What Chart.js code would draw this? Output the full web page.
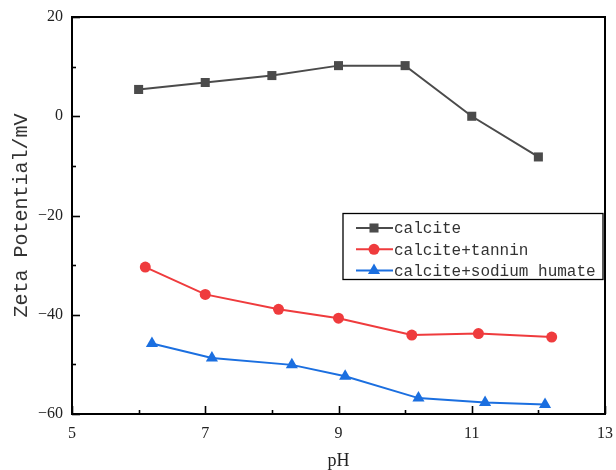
<!DOCTYPE html>
<html>
<head>
<meta charset="utf-8">
<title>Zeta Potential vs pH</title>
<script src="https://cdn.jsdelivr.net/npm/chart.js@4.4.1/dist/chart.umd.min.js"></script>
<style>
  body { margin: 0; background: #fff; }
  #wrap { width: 616px; height: 470px; }
</style>
</head>
<body>
<div id="wrap"><canvas id="zetaChart" width="616" height="470"></canvas></div>
<script>
// values
const seriesNames = ['calcite', 'calcite+tannin', 'calcite+sodium humate'];
const calcitePH = [6.0, 7.0, 8.0, 9.0, 10.0, 11.0, 12.0];
const calciteZeta = [5.4, 6.8, 8.2, 10.2, 10.2, 0.0, -8.2];
const tanninPH = [6.1, 7.0, 8.1, 9.0, 10.1, 11.1, 12.2];
const tanninZeta = [-30.4, -35.9, -38.9, -40.7, -44.1, -43.8, -44.5];
const humatePH = [6.2, 7.1, 8.3, 9.1, 10.2, 11.2, 12.1];
const humateZeta = [-45.8, -48.7, -50.1, -52.4, -56.8, -57.7, -58.1];
const xTicks = [5, 7, 9, 11, 13];
const yTicks = [-60, -40, -20, 0, 20];

const colors = ['#4b4b4b', '#ef3b3d', '#1b6fe0'];
const markers = ['rect', 'circle', 'triangle'];
const markerSize = [6.4, 5.5, 7];

const pairs = (xs, ys) => xs.map((x, i) => ({ x: x, y: ys[i] }));

// draws a marker the same way for the legend samples
function drawMarker(ctx, style, x, y, r, color) {
    ctx.fillStyle = color;
    ctx.beginPath();
    if (style === 'rect') {
        const s = r * Math.SQRT1_2;
        ctx.rect(x - s, y - s, 2 * s, 2 * s);
    } else if (style === 'circle') {
        ctx.arc(x, y, r, 0, Math.PI * 2);
    } else {
        ctx.moveTo(x, y - r);
        ctx.lineTo(x + r * Math.sin(Math.PI * 2 / 3), y + r / 2);
        ctx.lineTo(x - r * Math.sin(Math.PI * 2 / 3), y + r / 2);
        ctx.closePath();
    }
    ctx.fill();
}

// box around the plot and inward tick marks
const framePlugin = {
    id: 'frame',
    afterDraw(chart) {
        const { ctx, chartArea: a, scales } = chart;
        ctx.save();
        ctx.strokeStyle = '#000';
        ctx.lineWidth = 1.6;
        for (let v = 5; v <= 13; v++) {
            const px = Math.round(scales.x.getPixelForValue(v)) + 0.5;
            const len = v % 2 === 1 ? 8 : 4;
            ctx.beginPath();
            ctx.moveTo(px, a.bottom);
            ctx.lineTo(px, a.bottom - len);
            ctx.stroke();
        }
        for (let v = -60; v <= 20; v += 10) {
            const py = Math.round(scales.y.getPixelForValue(v)) + 0.5;
            const len = v % 20 === 0 ? 8 : 4;
            ctx.beginPath();
            ctx.moveTo(a.left, py);
            ctx.lineTo(a.left + len, py);
            ctx.stroke();
        }
        ctx.lineWidth = 2;
        ctx.strokeRect(a.left, a.top, a.right - a.left, a.bottom - a.top);
        ctx.restore();
    }
};

// legend box drawn inside the plot, lower right
const legendPlugin = {
    id: 'boxLegend',
    afterDraw(chart) {
        const { ctx, chartArea: a } = chart;
        const boxRight = a.right - 2;
        const boxLeft = boxRight - 260;
        const boxTop = 213.5;
        const rowH = 21.3;
        ctx.save();
        ctx.fillStyle = '#fff';
        ctx.fillRect(boxLeft, boxTop, boxRight - boxLeft, 66);
        ctx.strokeStyle = '#000';
        ctx.lineWidth = 1.3;
        ctx.strokeRect(boxLeft, boxTop, boxRight - boxLeft, 66);
        ctx.font = '16px "Liberation Mono", monospace';
        ctx.textBaseline = 'middle';
        chart.data.datasets.forEach((ds, i) => {
            const y = boxTop + 14.5 + i * rowH;
            ctx.strokeStyle = ds.borderColor;
            ctx.lineWidth = 2;
            ctx.beginPath();
            ctx.moveTo(boxLeft + 13, y);
            ctx.lineTo(boxLeft + 50, y);
            ctx.stroke();
            drawMarker(ctx, markers[i], boxLeft + 31, y, markerSize[i], ds.borderColor);
            ctx.fillStyle = '#333';
            ctx.fillText(ds.label, boxLeft + 51, y + 1);
        });
        ctx.restore();
    }
};

const ctx = document.getElementById('zetaChart').getContext('2d');
new Chart(ctx, {
    type: 'line',
    data: {
        datasets: [
            { label: seriesNames[0], data: pairs(calcitePH, calciteZeta) },
            { label: seriesNames[1], data: pairs(tanninPH, tanninZeta) },
            { label: seriesNames[2], data: pairs(humatePH, humateZeta) }
        ].map((ds, i) => Object.assign(ds, {
            borderColor: colors[i],
            backgroundColor: colors[i],
            borderWidth: 2,
            pointStyle: markers[i],
            pointRadius: markerSize[i],
            pointHoverRadius: markerSize[i],
            pointBorderWidth: 0,
            tension: 0
        }))
    },
    options: {
        responsive: false,
        animation: false,
        events: [],
        layout: { padding: { top: 17, right: 11, left: 0, bottom: 0 } },
        plugins: {
            legend: { display: false },
            tooltip: { enabled: false }
        },
        scales: {
            x: {
                type: 'linear',
                min: 5,
                max: 13,
                afterBuildTicks: s => { s.ticks = xTicks.map(v => ({ value: v })); },
                afterFit: s => { s.height = 56; s.paddingLeft = 0; s.paddingRight = 0; },
                grid: { drawOnChartArea: false, drawTicks: false },
                border: { display: false },
                ticks: {
                    padding: 10,
                    color: '#222',
                    font: { family: '"Liberation Serif", serif', size: 16 }
                },
                title: {
                    display: true,
                    text: 'pH',
                    color: '#222',
                    padding: { top: 0, bottom: 0 },
                    font: { family: '"Liberation Serif", serif', size: 18, lineHeight: 1 }
                }
            },
            y: {
                min: -60,
                max: 20,
                afterBuildTicks: s => { s.ticks = yTicks.map(v => ({ value: v })); },
                afterFit: s => { s.width = 72; s.paddingTop = 0; s.paddingBottom = 0; },
                grid: { drawOnChartArea: false, drawTicks: false },
                border: { display: false },
                ticks: {
                    padding: 9,
                    color: '#222',
                    font: { family: '"Liberation Serif", serif', size: 16 },
                    callback: v => String(v).replace('-', '\u2212')
                },
                title: {
                    display: true,
                    text: 'Zeta Potential/mV',
                    color: '#333',
                    padding: { top: 10, bottom: 0 },
                    font: { family: '"Liberation Mono", monospace', size: 20, lineHeight: 1.2 }
                }
            }
        }
    },
    plugins: [framePlugin, legendPlugin]
});
</script>
</body>
</html>
